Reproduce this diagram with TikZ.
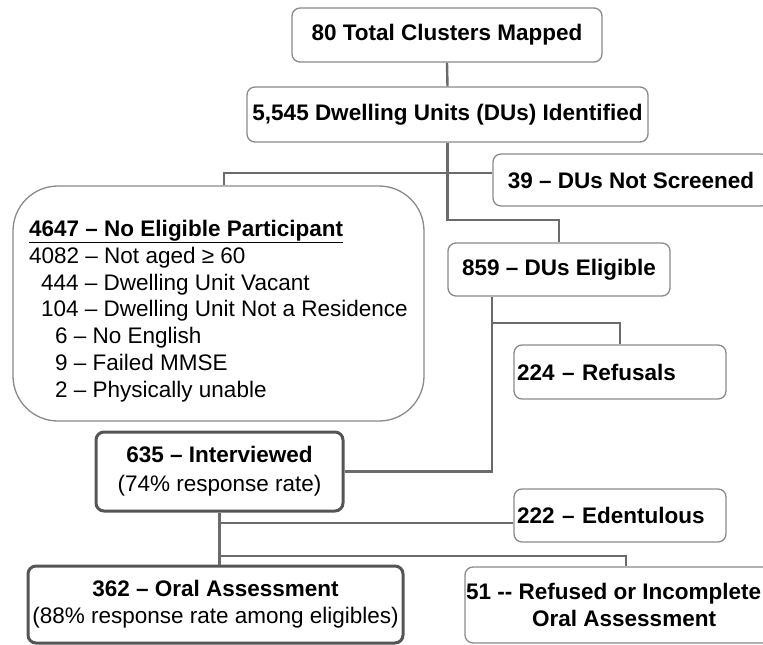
\documentclass[tikz,border=0pt]{standalone}
\usepackage{fontspec}
\setmainfont{Liberation Sans}
\definecolor{linegray}{HTML}{6B6B6B}
\definecolor{boxgray}{HTML}{8A8A8A}
\definecolor{thickgray}{HTML}{555555}
\newcommand\diafont{\fontsize{22.5}{26.8}\selectfont}
\begin{document}
\begin{tikzpicture}[x=1pt,y=-1pt,
  conn/.style={draw=linegray, line width=2.4pt},
  box/.style={draw=boxgray, line width=1.3pt, rounded corners=8pt, fill=white, inner sep=0pt, font=\diafont},
  thickbox/.style={box, draw=thickgray, line width=3pt},
  txt/.style={inner sep=0pt, font=\diafont}]
\useasboundingbox (0,0) rectangle (763,645);
\clip (0,0) rectangle (763,645);
% boxes
\node[box, minimum width=310pt, minimum height=54pt] (top) at (447,35) {\bfseries 80 Total Clusters Mapped};
\node[box, minimum width=401pt, minimum height=55pt] (du) at (447.5,114.5) {\bfseries 5,545 Dwelling Units (DUs) Identified};
\node[box, minimum width=276pt, minimum height=52pt] (ns) at (631,180) {\bfseries 39 – DUs Not Screened};
\node[box, minimum width=222pt, minimum height=53pt] (elig) at (559,269.5) {\bfseries 859 – DUs Eligible};
\node[box, rounded corners=45pt, minimum width=411pt, minimum height=235pt] (big) at (218.5,303.5) {};
\node[txt, anchor=north west, align=left] (bigtxt) at (29,220) {\underline{\textbf{4647 – No Eligible Participant}}\\
4082 – Not aged ≥ 60\\
\hspace*{12pt}444 – Dwelling Unit Vacant\\
\hspace*{12pt}104 – Dwelling Unit Not a Residence\\
\hspace*{26pt}6 – No English\\
\hspace*{26pt}9 – Failed MMSE\\
\hspace*{26pt}2 – Physically unable};
\node[box, minimum height=54pt, text width=206pt, inner xsep=3pt, align=left] (ref) at (620,372) {\textbf{224 – Refusals}};
\node[thickbox, minimum width=247pt, minimum height=79pt, align=center] (intv) at (219.5,471.5) {\textbf{635 – Interviewed}\\[2pt](74\% response rate)};
\node[box, minimum height=53pt, text width=206pt, inner xsep=3pt, align=left] (edent) at (620,515.5) {\textbf{222 – Edentulous}};
\node[thickbox, minimum width=375pt, minimum height=77pt, align=center] (oral) at (215.5,604.5) {\textbf{362 – Oral Assessment}\\(88\% response rate among eligibles)};
\node[box, minimum width=313pt, minimum height=76pt] (refinc) at (621.5,605) {};
\node[txt, anchor=west, align=left] (refinctxt) at (466,605) {\textbf{51 -{}- Refused or Incomplete}\\\hspace*{66pt}\textbf{Oral Assessment}};
% junctions
\coordinate (j1) at (447.5,173);
\coordinate (j2) at (447.5,220);
\coordinate (j3) at (492,323);
\coordinate (j4) at (219.5,523);
\coordinate (j5) at (219.5,556);
% connectors
\draw[conn] (top.south) -- (du.north);
\draw[conn] (du.south) -- (j2) -| (elig.north);
\draw[conn] ([xshift=5.5pt]big.north) |- (j1) -- (j1 -| ns.west);
\draw[conn] (elig.south -| j3) -- (j3) -| (ref.north);
\draw[conn] (j3) |- (intv.east);
\draw[conn] (intv.south) -- (intv.south |- oral.north);
\draw[conn] (j4) -- (j4 -| edent.west);
\draw[conn] (j5) -| ([xshift=4.5pt]refinc.north);
\end{tikzpicture}
\end{document}
